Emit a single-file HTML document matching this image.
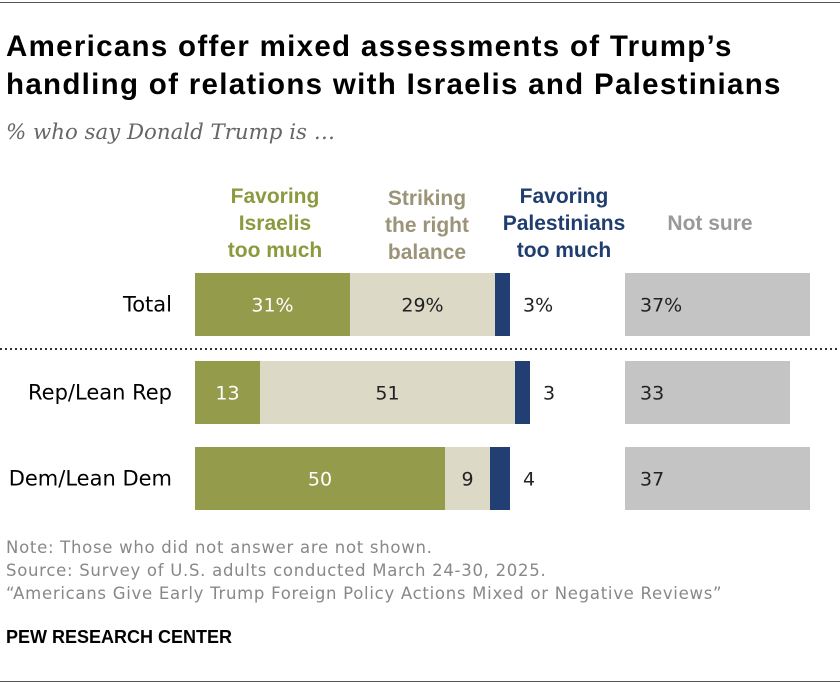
<!DOCTYPE html>
<html><head><meta charset="utf-8"><style>
body{margin:0;width:840px;height:684px;background:#fff;font-family:"Liberation Sans",sans-serif;position:relative;overflow:hidden}
.abs{position:absolute}
</style></head><body>
<div class="abs" style="left:0;top:2px;width:840px;height:1px;background:#555"></div>
<div class="abs" style="left:6px;top:28px;font-size:29.5px;letter-spacing:1.3px;font-weight:bold;line-height:38px;color:#000;width:830px">Americans offer mixed assessments of Trump’s<br>handling of relations with Israelis and Palestinians</div>
<div class="abs" style="left:6px;top:120px;font-family:'DejaVu Serif',serif;font-style:italic;font-size:21.3px;color:#666">% who say Donald Trump is …</div>
<svg class="abs" style="left:0;top:0" width="840" height="684" id="chart"></svg>
<div class="abs" style="left:6px;top:536px;font-family:'DejaVu Sans',sans-serif;font-size:16.5px;letter-spacing:0.72px;color:#888;line-height:23px">Note: Those who did not answer are not shown.<br>Source: Survey of U.S. adults conducted March 24-30, 2025.<br>“Americans Give Early Trump Foreign Policy Actions Mixed or Negative Reviews”</div>
<div class="abs" style="left:6px;top:627px;font-size:18px;font-weight:bold;color:#000">PEW RESEARCH CENTER</div>
<div class="abs" style="left:0;top:681px;width:840px;height:1px;background:#555"></div>
<script>
const categories=["Total","Rep/Lean Rep","Dem/Lean Dem"];
const favIsr=[31,13,50];
const balance=[29,51,9];
const favPal=[3,3,4];
const notSure=[37,33,37];
const labelsPct=[true,false,false];
const NS="http://www.w3.org/2000/svg";
const svg=document.getElementById('chart');
const x0=195,scale=5,nsX=625;
const rowTop=[273,361,447],bh=63;
const F='DejaVu Sans, sans-serif';
function el(t,a){const e=document.createElementNS(NS,t);for(const k in a)e.setAttribute(k,a[k]);svg.appendChild(e);return e;}
function txt(x,y,s,o){const e=el('text',Object.assign({x:x,y:y,'font-size':19,'font-family':F},o||{}));e.textContent=s;return e;}
const heads=[[275,["Favoring","Israelis","too much"],"#8c9a3f"],[427,["Striking","the right","balance"],"#9b9478"],[564,["Favoring","Palestinians","too much"],"#1f3d6e"],[710,["Not sure"],"#999"]];
heads.forEach(h=>{h[1].forEach((l,i)=>{const ty=h[1].length==1?230:(h[0]==427?205+i*27:203+i*27);const t=txt(h[0],ty,l,{'text-anchor':'middle','font-weight':'bold',fill:h[2],'font-size':21,'font-family':'Liberation Sans, sans-serif'});

});});
categories.forEach((c,i)=>{
 const y=rowTop[i],cy=y+bh/2+7,p=labelsPct[i]?'%':'';
 const lab=txt(172,cy,c,{'text-anchor':'end',fill:'#000','font-size':21});
 
 
 let x=x0;
 const segs=[[favIsr[i],'#949b4a','#fff'],[balance[i],'#dcd9c7','#222'],[favPal[i],'#223f74',null]];
 segs.forEach((s,j)=>{const w=s[0]*scale;const r=el('rect',{x:x,y:y,width:w,height:bh,fill:s[1]});
  
  
  const v=s[0]+p;
  if(j<2)txt(x+w/2,cy,v,{'text-anchor':'middle',fill:s[2]});
  else txt(x+w+13,cy,v,{fill:'#222'});
  x+=w;});
 const r=el('rect',{x:nsX,y:y,width:notSure[i]*scale,height:bh,fill:'#c4c4c4'});
 
 
 txt(nsX+15,cy,notSure[i]+p,{fill:'#222'});
});
const d=el('line',{x1:0,x2:840,y1:349,y2:349,stroke:'#333','stroke-width':2,'stroke-dasharray':'2,3'});


</script>
</body></html>
